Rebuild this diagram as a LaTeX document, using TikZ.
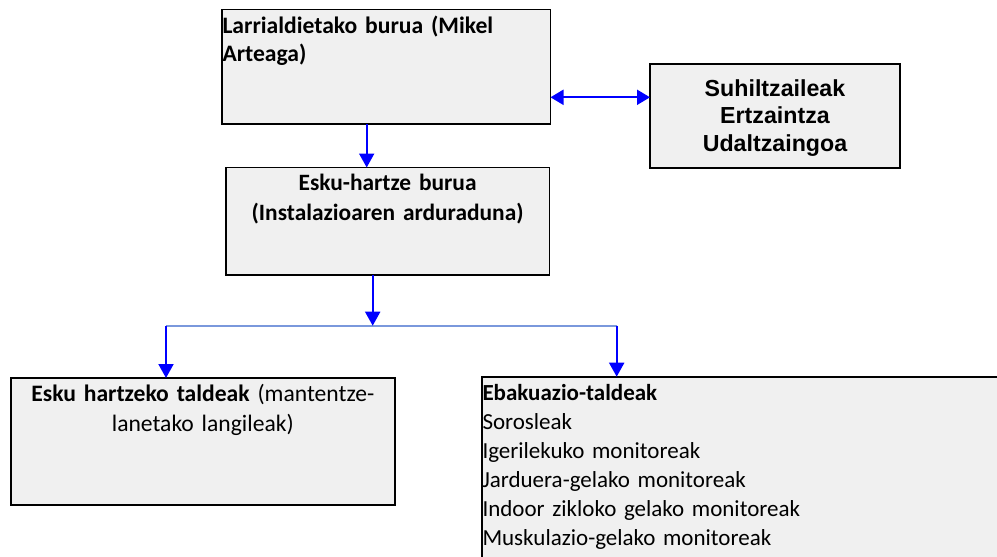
\documentclass[tikz,border=0pt]{standalone}
\usepackage{fontspec}
\setmainfont{Carlito}
\newfontfamily\arialfont{Liberation Sans}
\usetikzlibrary{arrows.meta}
\definecolor{boxgray}{RGB}{240,240,240}
\definecolor{arrowblue}{RGB}{0,0,255}
\definecolor{busblue}{RGB}{122,152,220}
\begin{document}
\begin{tikzpicture}[x=1pt,y=-1pt,
  box/.style={draw=black, line width=1.6pt, fill=boxgray, anchor=north west,
              inner sep=0pt, outer sep=0pt},
  txt/.style={inner sep=0pt, outer sep=0pt},
  link/.style={draw=arrowblue, line width=2pt,
               -{Triangle[width=15pt,length=14pt]}},
  dlink/.style={draw=arrowblue, line width=2pt,
               {Triangle[width=15pt,length=13pt]}-{Triangle[width=15pt,length=13pt]}},
  busline/.style={draw=busblue, line width=1.6pt}
]
\useasboundingbox (0,0) rectangle (997,557);
\clip (0,0) rectangle (997,557);

% boxes
\node[box, minimum width=328.8pt, minimum height=114.7pt] (A) at (221.7,9.3) {};
\node[box, minimum width=250pt,   minimum height=104pt]   (B) at (650,64) {};
\node[box, minimum width=323.3pt, minimum height=107.5pt] (C) at (226,167.5) {};
\node[box, minimum width=384.3pt, minimum height=127pt]   (D) at (10.7,378) {};
\node[box, minimum width=540pt,   minimum height=200pt]   (E) at (481.7,376.7) {};

% texts
\node[txt, font=\fontsize{23.6}{28.3}\selectfont\bfseries, text width=340pt,
      align=left, anchor=base west] (At) at (222.5,33.3)
      {Larrialdietako burua (Mikel\\Arteaga)};
\node[txt, font=\arialfont\fontsize{23.2}{27.5}\selectfont\bfseries, text width=250pt,
      align=center, anchor=base] (Bt) at (775,96)
      {Suhiltzaileak\\Ertzaintza\\Udaltzaingoa};
\node[txt, font=\fontsize{23.4}{30}\selectfont\bfseries, text width=320pt,
      align=center, anchor=base] (Ct) at (387.6,190)
      {Esku-hartze burua\\(Instalazioaren arduraduna)};
\node[txt, font=\fontsize{23.6}{30}\selectfont, text width=380pt,
      align=center, anchor=base] (Dt) at (202.8,401.7)
      {\textbf{Esku hartzeko taldeak} (mantentze-\\lanetako langileak)};
\node[txt, font=\fontsize{23}{29}\selectfont, text width=500pt,
      align=left, anchor=base west] (Et) at (482.5,400.7)
      {\textbf{Ebakuazio-taldeak}\\Sorosleak\\Igerilekuko monitoreak\\Jarduera-gelako monitoreak\\Indoor zikloko gelako monitoreak\\Muskulazio-gelako monitoreak};

% connectors
\coordinate (xa) at (366.7,0);
\coordinate (yab) at (0,97.3);
\coordinate (xc) at (372.7,0);
\coordinate (bus) at (372.7,325.7);
\coordinate (busL) at (166,325.7);
\coordinate (busR) at (616.7,325.7);

\draw[link] (A.south -| xa) -- (C.north -| xa);
\draw[dlink] (A.east |- yab) -- (B.west |- yab);
\draw[busline] (busL) -- (busR);
\draw[link] (C.south -| xc) -- (bus);
\draw[link] (busL) -- (D.north -| busL);
\draw[link] (busR) -- (E.north -| busR);
\end{tikzpicture}
\end{document}
